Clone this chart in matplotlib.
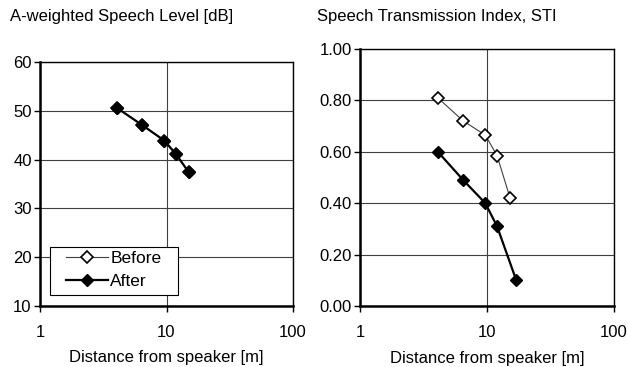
import matplotlib
matplotlib.use("Agg")
import matplotlib.pyplot as plt
from matplotlib.patches import Rectangle
from matplotlib.ticker import FixedLocator, NullLocator, FixedFormatter

plt.rcParams['font.family'] = ['Liberation Sans', 'DejaVu Sans']

# level chart (before hidden under after)
lvl_dist = [4.05, 6.4, 9.6, 11.9, 15.0]
lvl_before = [50.6, 47.1, 43.9, 41.1, 37.4]
lvl_after = [50.6, 47.1, 43.9, 41.1, 37.4]

# STI chart
sti_dist_before = [4.1, 6.5, 9.7, 12.0, 15.2]
sti_before = [0.81, 0.72, 0.665, 0.585, 0.42]
sti_dist_after = [4.1, 6.5, 9.7, 12.0, 17.0]
sti_after = [0.60, 0.49, 0.40, 0.31, 0.10]

x_ticks = [1, 10, 100]
x_labels = ["1", "10", "100"]

fig = plt.figure(figsize=(6.28, 3.67), dpi=100)
ax1 = fig.add_axes([40/628, 1-306/367, 253/628, 244/367])
ax2 = fig.add_axes([360/628, 1-306/367, 254/628, 257/367])


def style_axes(ax, yticks, ylabels):
    ax.set_xscale('log')
    ax.set_xlim(1, 100)
    ax.set_ylim(yticks[0], yticks[-1])
    ax.xaxis.set_major_locator(FixedLocator(x_ticks))
    ax.xaxis.set_major_formatter(FixedFormatter(x_labels))
    ax.xaxis.set_minor_locator(NullLocator())
    ax.set_yticks(yticks)
    ax.set_yticklabels(ylabels)
    ax.grid(True, color='#404040', linewidth=0.8)
    ax.set_axisbelow(True)
    for s in ['left', 'bottom']:
        ax.spines[s].set_linewidth(1.8)
    for s in ['top', 'right']:
        ax.spines[s].set_linewidth(1.0)
    ax.tick_params(direction='out', length=4, width=1, labelsize=12, pad=2)
    ax.tick_params(axis='x', pad=10)
    ax.set_xlabel("Distance from speaker [m]", fontsize=12, labelpad=7)


ax1.plot(lvl_dist, lvl_before, color='#404040', lw=0.8, marker='D', ms=6.5,
         mfc='white', mec='black', mew=1.2, label='Before')
ax1.plot(lvl_dist, lvl_after, color='black', lw=1.6, marker='D', ms=6.5,
         mfc='black', mec='black', label='After')
style_axes(ax1, [10, 20, 30, 40, 50, 60], ["10", "20", "30", "40", "50", "60"])

# legend box drawn separately so it can be wider than the entries
ax1.add_patch(Rectangle((10/253, 11/244), 128/253, 48/244, transform=ax1.transAxes,
                        facecolor='white', edgecolor='black', lw=0.8, zorder=4))
leg = ax1.legend(loc='upper left', bbox_to_anchor=(26/253, 55/244), fontsize=12.5,
                 frameon=False, handlelength=2.4, handletextpad=0.15,
                 borderpad=0, labelspacing=0.45, borderaxespad=0)
leg.set_zorder(5)
fig.text(10/628, 1-17/367, "A-weighted Speech Level [dB]", fontsize=12,
         va='center', ha='left')

ax2.plot(sti_dist_before, sti_before, color='#404040', lw=0.8, marker='D', ms=6.5,
         mfc='white', mec='black', mew=1.2)
ax2.plot(sti_dist_after, sti_after, color='black', lw=1.6, marker='D', ms=6.5,
         mfc='black', mec='black')
style_axes(ax2, [0, 0.2, 0.4, 0.6, 0.8, 1.0],
           ["0.00", "0.20", "0.40", "0.60", "0.80", "1.00"])
ax2.xaxis.labelpad = 7.5
fig.text(317/628, 1-17/367, "Speech Transmission Index, STI", fontsize=12,
         va='center', ha='left')

fig.savefig("out.png", dpi=100)
